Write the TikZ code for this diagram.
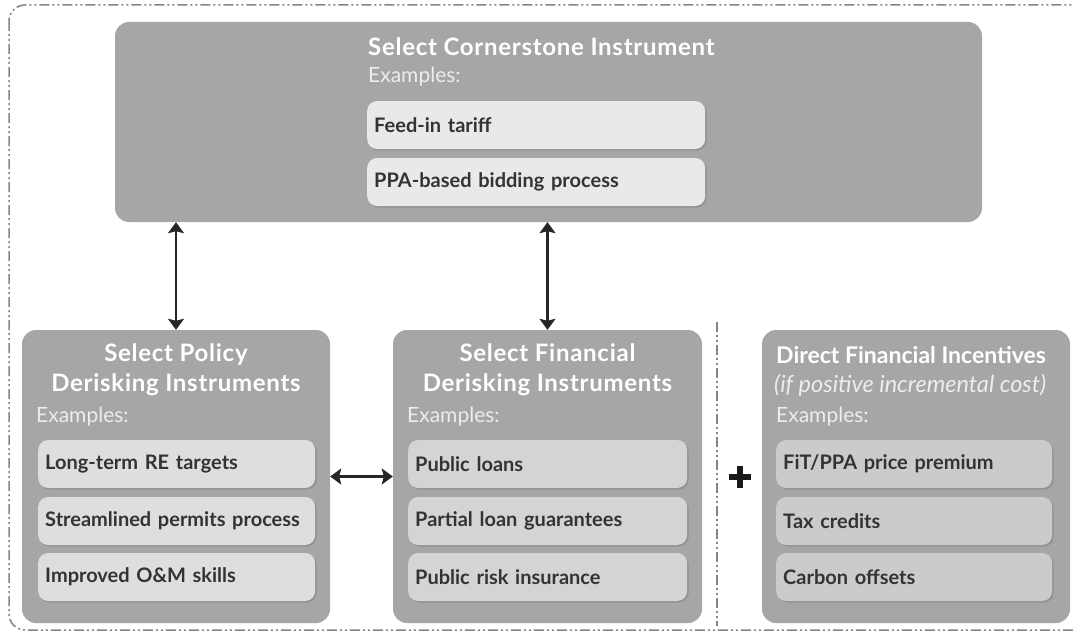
\documentclass[tikz,border=0pt]{standalone}
\usepackage{fontspec}
\setmainfont{Lato}
\usetikzlibrary{arrows.meta,shadows}

\definecolor{boxgray}{HTML}{A6A6A6}
\definecolor{itemtop}{HTML}{E9E9E9}
\definecolor{itempol}{HTML}{DEDEDE}
\definecolor{itemfin}{HTML}{D4D4D4}
\definecolor{iteminc}{HTML}{CBCBCB}
\definecolor{exgray}{HTML}{EDEDED}
\definecolor{itemtext}{HTML}{333333}
\definecolor{framegray}{HTML}{858585}

\newfontfamily\headfont[LetterSpace=3]{Lato}

\tikzset{
  panel/.style={fill=boxgray, rounded corners=14pt, inner sep=0pt},
  head/.style={text=white, font=\headfont\fontsize{24}{30}\selectfont\bfseries, align=center},
  ex/.style={text=exgray, font=\fontsize{21}{24}\selectfont, anchor=west, inner sep=0pt},
  item/.style={anchor=west, rounded corners=10pt, minimum height=48pt, inner xsep=7pt,
    text=itemtext, font=\fontsize{20}{24}\selectfont\bfseries, align=left,
    drop shadow={shadow xshift=1.5pt, shadow yshift=-1.5pt, fill=black, opacity=0.12}},
  link/.style={{Stealth[length=11pt,width=16pt,inset=2pt]}-{Stealth[length=11pt,width=16pt,inset=2pt]},
    line width=2.2pt, black!85},
  border/.style={framegray, line width=1.5pt,
    dash pattern=on 10pt off 3pt on 2pt off 3pt on 2pt off 3pt}
}

\begin{document}
\begin{tikzpicture}[x=1pt,y=-1pt]
  \useasboundingbox (0,0) rectangle (1073,634);
  % dashed frame round everything
  \draw[border, rounded corners=16pt] (9,5) rectangle (1090,630);

  % cornerstone
  \node[panel, minimum width=867pt, minimum height=200pt] (corner) at (548.5,122) {};
  \node[head, anchor=west, inner sep=0pt] (cornerT) at (368,47) {Select Cornerstone Instrument};
  \node[ex] (cornerE) at (368,77) {Examples:};
  \foreach \n/\y/\t in {c1/125/Feed-in tariff, c2/182/PPA-based bidding process}
    \node[item, fill=itemtop, text width=324pt] (\n) at (367,\y) {\t};

  % policy derisking
  \node[panel, minimum width=308pt, minimum height=293pt] (policy) at (176,476.5) {};
  \node[head] (policyT) at (176,370) {Select Policy\\Derisking Instruments};
  \node[ex] (policyE) at (36,417) {Examples:};
  \foreach \n/\y/\t in {p1/464/Long-term RE targets, p2/521/Streamlined permits process,
      p3/577/Improved O\&M skills}
    \node[item, fill=itempol, text width=263pt] (\n) at (38,\y) {\t};

  % financial derisking
  \node[panel, minimum width=309pt, minimum height=293pt] (finance) at (547.5,476.5) {};
  \node[head] (financeT) at (547.5,370) {Select Financial\\Derisking Instruments};
  \node[ex] (financeE) at (407,417) {Examples:};
  \foreach \n/\y/\t in {f1/464/Public loans, f2/521/Partial loan guarantees,
      f3/577/Public risk insurance}
    \node[item, fill=itemfin, text width=265pt] (\n) at (408,\y) {\t};

  % direct incentives
  \node[panel, minimum width=308pt, minimum height=293pt] (incent) at (916,476.5) {};
  \node[text=white, font=\fontsize{23}{30}\selectfont\bfseries, anchor=west, inner sep=0pt]
    (incentT) at (776,355) {Direct Financial Incentives};
  \node[text=exgray, font=\fontsize{23.5}{30}\selectfont\itshape, anchor=west, inner sep=0pt]
    (incentS) at (774,385) {(if positive incremental cost)};
  \node[ex] (incentE) at (776,417) {Examples:};
  \foreach \n/\y/\t in {i1/464/{FiT/PPA price premium}, i2/521/Tax credits,
      i3/577/Carbon offsets}
    \node[item, fill=iteminc, text width=262pt] (\n) at (776,\y) {\t};

  % links
  \draw[link] (policy.north) -- (policy.north |- corner.south);
  \draw[link] (finance.north) -- (finance.north |- corner.south);
  \draw[link] (policy.east) -- (finance.west);

  % divider and plus
  \draw[border] (717,322) -- (717,626);
  \coordinate (plus) at (740,477);
  \draw[line width=6.5pt, black!90] ([xshift=-11pt]plus) -- ([xshift=11pt]plus)
    ([yshift=-11pt]plus) -- ([yshift=11pt]plus);
\end{tikzpicture}
\end{document}
